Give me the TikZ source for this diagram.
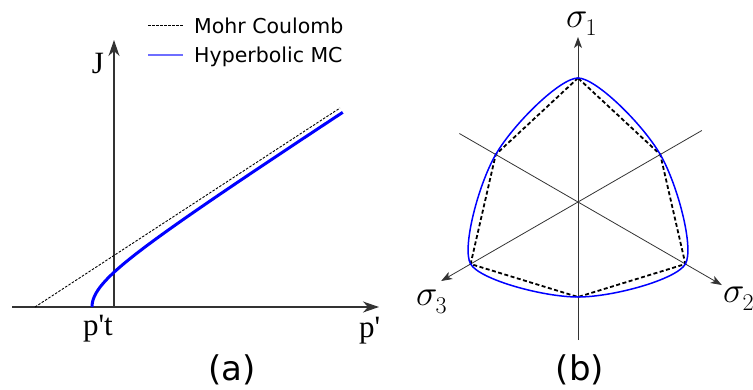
\RequirePackage{fix-cm}
\documentclass[tikz,border=0pt]{standalone}
\usepackage{fontspec}
\setmainfont{DejaVu Sans}
\newfontfamily\serifnum[Ligatures=TeXOff]{Liberation Serif}
\usetikzlibrary{arrows.meta}
\newcommand{\sigsub}[1]{$\sigma$\kern-2pt\raisebox{-8pt}{\fontsize{24}{24}\selectfont$#1$}}
\begin{document}
\begin{tikzpicture}[x=1pt,y=-1pt,
  axa/.style={draw=black!80, line width=1.4pt, -{Stealth[length=16pt,width=11pt,inset=5pt]}},
  axb/.style={draw=black!80, line width=0.8pt, -{Stealth[length=11pt,width=8pt,inset=3pt]}},
  mca/.style={draw=black, line width=0.9pt, dash pattern=on 2.5pt off 1.5pt},
  mcb/.style={draw=black, line width=1.8pt, dash pattern=on 4pt off 2.5pt},
  hypa/.style={draw=blue, line width=3pt},
  hypb/.style={draw=blue, line width=1.5pt},
  legblue/.style={draw={rgb,255:red,110;green,110;blue,255}, line width=1.6pt},
  lab/.style={font=\fontsize{31}{31}\selectfont\serifnum, inner sep=0pt},
  leg/.style={font=\fontsize{20.5}{22}\selectfont, inner sep=0pt, anchor=base west},
  capt/.style={font=\fontsize{34}{36}\selectfont, inner sep=0pt, anchor=base},
  sig/.style={font=\fontsize{36}{36}\selectfont, inner sep=0pt}]
\useasboundingbox (0,0) rectangle (753,389);

% ---------- panel (a) ----------
\coordinate (oa) at (114,307);
\coordinate (xa0) at (12,307);
\coordinate (xa1) at (379,307);
\coordinate (ya1) at (114,40);
\draw[axa] (xa0) -- (xa1);
\draw[axa] (oa) -- (ya1);
\coordinate (mc0) at (35,307);
\coordinate (mc1) at (340,108);
\draw[mca] (mc0) -- (mc1);
\draw[hypa] plot[domain=0:2.4166, samples=80, smooth, variable=\s]
  ({38+54*cosh(\s)}, {307-35.05*sinh(\s)});

% legend
\coordinate (l1a) at (148,25); \coordinate (l1b) at (183,25);
\coordinate (l2a) at (148,55); \coordinate (l2b) at (183,55);
\draw[mca] (l1a) -- (l1b);
\draw[legblue] (l2a) -- (l2b);
\node[leg] (l1) at (194,33) {Mohr Coulomb};
\node[leg] (l2) at (194,62) {Hyperbolic MC};

\node[lab] (J) at (98,63) {J};
\node[lab, anchor=base] (pt) at (98,335) {p't};
\node[lab, anchor=base west] (pp) at (359,337) {p'};
\node[capt] (ca) at (232,380) {(a)};

% ---------- panel (b) ----------
\begin{scope}[shift={(578,202)}, y=1pt]
  \coordinate (ob) at (0,0);
  \coordinate (s1a) at (270:138); \coordinate (s1b) at (90:165);
  \coordinate (s2a) at (150:137); \coordinate (s2b) at (330:166);
  \coordinate (s3a) at (30:143);  \coordinate (s3b) at (210:158);
  \draw[axb] (s1a) -- (s1b);
  \draw[axb] (s2a) -- (s2b);
  \draw[axb] (s3a) -- (s3b);

  \coordinate (c90) at (90:124);
  \coordinate (t150) at (150:95);
  \coordinate (c210) at (210:124);
  \coordinate (t270) at (270:95);
  \coordinate (c330) at (330:124);
  \coordinate (t30) at (30:95);
  \draw[mcb] (c90) -- (t150) -- (c210) -- (t270) -- (c330) -- (t30) -- cycle;

  \draw[hypb] (t30) .. controls +(120:35) and +(0:18) .. (c90)
     .. controls +(180:18) and +(60:35) .. (t150)
     .. controls +(240:35) and +(120:18) .. (c210)
     .. controls +(300:18) and +(180:35) .. (t270)
     .. controls +(0:35) and +(240:18) .. (c330)
     .. controls +(60:18) and +(300:35) .. (t30) -- cycle;
\end{scope}

\node[sig, anchor=base west] (sg1) at (566,27) {\sigsub{1}};
\node[sig, anchor=base west] (sg2) at (723,302) {\sigsub{2}};
\node[sig, anchor=base west] (sg3) at (416,305) {\sigsub{3}};
\node[capt] (cb) at (580,380) {(b)};
\end{tikzpicture}
\end{document}
